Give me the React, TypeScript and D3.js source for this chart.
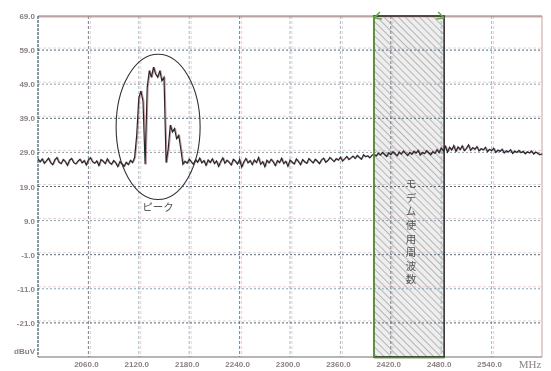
import React, { useEffect, useRef } from "react";
import * as d3 from "d3";

// spectrum trace, 2.5 MHz per point starting at 2000 MHz (dBuV)
const startMHz = 2000;
const stepMHz = 2.5;
const floorLeft = [
  27.0, 26.2, 27.1, 25.8, 26.5, 27.3, 26.0, 25.4, 26.8, 27.5, 26.1, 25.7,
  26.9, 26.3, 25.2, 26.7, 27.2, 26.0, 25.6, 26.4, 27.0, 25.9, 26.6, 25.3,
  26.8, 27.4, 26.2, 25.8, 26.5, 25.1, 26.9, 26.4, 25.7, 27.1, 26.0, 25.5,
  26.6, 25.9, 24.8, 26.3, 25.6, 24.9, 26.1, 25.4, 26.7, 26.0,
];
const peakBand = [
  27.5, 34, 45, 47, 44, 25.5, 48, 53, 51, 54, 52, 51, 53, 50, 51, 26, 30, 37,
  35, 36, 33, 34, 30, 25.5,
];
const floorMid = [
  26.4, 25.8, 27.0, 26.2, 25.5, 26.9, 26.1, 27.3, 25.9, 26.6, 25.2, 26.8,
  26.0, 27.1, 25.7, 26.5, 24.9, 26.3, 27.4, 25.8, 26.7, 26.1, 25.3, 27.0,
  26.4, 25.6, 26.9, 24.7, 26.2, 27.2, 25.9, 26.6, 25.4, 26.8, 26.0, 27.5,
  25.5, 26.3, 24.8, 26.7, 25.9, 27.0, 26.2, 25.1, 26.6, 26.0, 27.3, 25.7,
  26.4, 24.9, 26.8, 26.1, 25.6, 27.1, 26.3, 25.4, 26.9, 26.2, 25.8, 27.2,
  26.5, 25.9, 27.0, 26.4, 25.7, 26.8, 27.3, 26.1, 26.6, 27.5, 26.9, 26.3,
  27.2, 26.7, 27.6, 26.5, 27.1, 27.8, 26.9, 27.4, 27.9, 27.2, 28.1, 27.5,
  27.0, 28.3, 27.7, 28.0, 27.4, 28.2,
];
const floorRight = [
  28.5, 27.9, 28.8, 28.2, 29.0, 28.4, 27.8, 28.9, 28.3, 29.2, 28.6, 28.0,
  29.1, 28.5, 29.4, 28.7, 28.1, 29.0, 28.4, 29.3, 28.8, 29.6, 28.2, 29.0,
  28.6, 29.5, 28.9, 28.3, 29.2, 28.7, 29.8, 28.9, 30.3, 29.4, 30.8, 29.1,
  30.5, 29.7, 31.0, 29.3, 30.6, 29.8, 30.9, 29.5, 30.2, 31.2, 29.6, 30.4,
  29.9, 30.7, 29.4, 30.1, 29.7, 30.5, 29.2, 29.9, 29.5, 30.2, 29.0, 29.7,
  29.3, 29.9, 28.8, 29.5, 29.1, 29.8, 28.7, 29.4, 29.0, 29.6, 28.9, 29.3,
  28.6, 29.2, 28.8, 29.4, 28.5, 29.1, 28.7, 28.3, 28.6,
];
const traceValues = [...floorLeft, ...peakBand, ...floorMid, ...floorRight];

const xGrid = [2000, 2060, 2120, 2180, 2240, 2300, 2360, 2420, 2480, 2540, 2600];
const xTickLabels = [
  "2060.0", "2120.0", "2180.0", "2240.0", "2300.0",
  "2360.0", "2420.0", "2480.0", "2540.0",
];
const yGrid = [69, 59, 49, 39, 29, 19, 9, -1, -11, -21, -31];
const yTickLabels = [
  "69.0", "59.0", "49.0", "39.0", "29.0", "19.0",
  "9.0", "-1.0", "-11.0", "-21.0", "dBuV",
];

// modem band (2.4 GHz ISM)
const bandStart = 2400;
const bandEnd = 2483.5;
const bandLabel = "モデム使用周波数";
// peak annotation ellipse: centre (MHz, dB), radii (MHz, dB)
const peakEllipse = { f: 2143, v: 36.5, rf: 50, rv: 21.3 };
const peakLabel = "ピーク";

const App: React.FC = () => {
  const svgRef = useRef<SVGSVGElement | null>(null);

  useEffect(() => {
    const width = 551,
      height = 371;
    const x = d3.scaleLinear().domain([2000, 2600]).range([38, 542]);
    const y = d3.scaleLinear().domain([-31, 69]).range([357, 16]);

    const svg = d3.select(svgRef.current);
    svg.selectAll("*").remove();
    svg.attr("width", width).attr("height", height);

    const defs = svg.append("defs");
    defs
      .append("filter")
      .attr("id", "scan")
      .append("feGaussianBlur")
      .attr("stdDeviation", 0.45);
    const pat = defs
      .append("pattern")
      .attr("id", "hatch")
      .attr("patternUnits", "userSpaceOnUse")
      .attr("width", 5)
      .attr("height", 5)
      .attr("patternTransform", "rotate(45)");
    pat.append("rect").attr("width", 5).attr("height", 5).attr("fill", "#eeeeee");
    pat
      .append("line")
      .attr("x1", 0)
      .attr("x2", 5)
      .attr("y1", 0)
      .attr("y2", 0)
      .attr("stroke", "#a8a8a8")
      .attr("stroke-width", 1.6);

    const g = svg.append("g").attr("filter", "url(#scan)");
    g.append("rect").attr("width", width).attr("height", height).attr("fill", "#fff");

    const x0 = x(2000),
      x1 = x(2600),
      y0 = y(-31),
      y1 = y(69);

    // band box background
    g.append("rect")
      .attr("x", x(bandStart))
      .attr("y", y1)
      .attr("width", x(bandEnd) - x(bandStart))
      .attr("height", y0 - y1)
      .attr("fill", "url(#hatch)");

    // vertical grid
    xGrid.slice(1, -1).forEach((f, i) => {
      g.append("line")
        .attr("x1", x(f) + 2)
        .attr("x2", x(f) + 2)
        .attr("y1", y1)
        .attr("y2", y0)
        .attr("stroke", "#e4a0a0")
        .attr("stroke-opacity", 0.5)
        .attr("stroke-dasharray", "3,2");
      g.append("line")
        .attr("x1", x(f))
        .attr("x2", x(f))
        .attr("y1", y1)
        .attr("y2", y0)
        .attr("stroke", i % 3 === 0 ? "#55798c" : "#8fb5c8")
        .attr("stroke-width", 0.9)
        .attr("stroke-dasharray", "3,2");
    });

    // horizontal grid
    yGrid.slice(1, -1).forEach((v, i) => {
      g.append("line")
        .attr("x1", x0)
        .attr("x2", x1)
        .attr("y1", y(v) - 2)
        .attr("y2", y(v) - 2)
        .attr("stroke", "#e4a0a0")
        .attr("stroke-opacity", 0.5)
        .attr("stroke-dasharray", "3,2");
      g.append("line")
        .attr("x1", x0)
        .attr("x2", x1)
        .attr("y1", y(v))
        .attr("y2", y(v))
        .attr("stroke", i % 2 === 0 ? "#3f6f88" : "#7ea6ba")
        .attr("stroke-width", 1)
        .attr("stroke-dasharray", "2,2");
    });

    // frame
    g.append("line")
      .attr("x1", x0).attr("x2", x1).attr("y1", y1 + 1).attr("y2", y1 + 1)
      .attr("stroke", "#e0a0a0").attr("stroke-width", 1);
    g.append("line")
      .attr("x1", x0).attr("x2", x1).attr("y1", y1).attr("y2", y1)
      .attr("stroke", "#7d7d7d").attr("stroke-width", 1);
    g.append("line")
      .attr("x1", x0).attr("x2", x1).attr("y1", y0).attr("y2", y0)
      .attr("stroke", "#6f6f6f").attr("stroke-width", 1.2);
    g.append("line")
      .attr("x1", x1).attr("x2", x1).attr("y1", y1).attr("y2", y0)
      .attr("stroke", "#c9a0a0").attr("stroke-width", 1);
    g.append("line")
      .attr("x1", x0).attr("x2", x0).attr("y1", y1).attr("y2", y0)
      .attr("stroke", "#2f5a70").attr("stroke-width", 1.2)
      .attr("stroke-dasharray", "3,1");

    // trace
    const pts: [number, number][] = traceValues.map((v, i) => [
      startMHz + i * stepMHz,
      v,
    ]);
    const line = d3
      .line<[number, number]>()
      .x((d) => x(d[0]))
      .y((d) => y(d[1]));
    g.append("path")
      .datum(pts)
      .attr("d", line)
      .attr("fill", "none")
      .attr("stroke", "#c85050")
      .attr("stroke-opacity", 0.6)
      .attr("stroke-width", 1)
      .attr("transform", "translate(1,0)");
    g.append("path")
      .datum(pts)
      .attr("d", line)
      .attr("fill", "none")
      .attr("stroke", "#1e2a30")
      .attr("stroke-width", 1.2);

    // band box border
    g.append("rect")
      .attr("x", x(bandStart))
      .attr("y", y1)
      .attr("width", x(bandEnd) - x(bandStart))
      .attr("height", y0 - y1)
      .attr("fill", "none")
      .attr("stroke", "#2a2a2a")
      .attr("stroke-width", 1.5);
    g.append("line")
      .attr("x1", x(bandStart)).attr("x2", x(bandStart))
      .attr("y1", y1).attr("y2", y0)
      .attr("stroke", "#5f9e35").attr("stroke-width", 1.6);
    [bandStart, bandEnd].forEach((f, i) => {
      const cx = x(f);
      const dir = i === 0 ? 1 : -1;
      g.append("path")
        .attr("d", `M${cx},${y1 + 2} L${cx + dir * 6},${y1 - 4} M${cx},${y1 + 2} L${cx + dir * 8},${y1 + 3}`)
        .attr("stroke", "#5fb040")
        .attr("stroke-width", 1.6)
        .attr("fill", "none");
    });
    g.append("line")
      .attr("x1", x(bandStart)).attr("x2", x(bandEnd))
      .attr("y1", y0 + 1).attr("y2", y0 + 1)
      .attr("stroke", "#6fae45").attr("stroke-width", 1);

    // vertical label in the band
    const bx = (x(bandStart) + x(bandEnd)) / 2 + 2;
    Array.from(bandLabel).forEach((ch, i) => {
      g.append("text")
        .attr("x", bx)
        .attr("y", y(18.5) + i * 13.6)
        .attr("text-anchor", "middle")
        .attr("font-family", "Noto Sans CJK JP")
        .attr("font-size", 10.5)
        .attr("fill", "#555")
        .text(ch);
    });

    // peak ellipse and label
    const ecx = x(peakEllipse.f),
      ecy = y(peakEllipse.v);
    g.append("ellipse")
      .attr("cx", ecx)
      .attr("cy", ecy)
      .attr("rx", x(peakEllipse.f + peakEllipse.rf) - ecx)
      .attr("ry", ecy - y(peakEllipse.v + peakEllipse.rv))
      .attr("fill", "none")
      .attr("stroke", "#333")
      .attr("stroke-width", 1.1);
    g.append("text")
      .attr("x", ecx)
      .attr("y", y(peakEllipse.v - peakEllipse.rv) + 12)
      .attr("text-anchor", "middle")
      .attr("font-family", "Noto Sans CJK JP")
      .attr("font-size", 10.5)
      .attr("fill", "#555")
      .text(peakLabel);

    // y labels
    yGrid.forEach((v, i) => {
      g.append("text")
        .attr("x", x0 - 3)
        .attr("y", y(v) + (i === yGrid.length - 1 ? -3 : 3))
        .attr("text-anchor", "end")
        .attr("font-family", "Liberation Sans Narrow, Liberation Sans")
        .attr("font-size", 8)
        .attr("font-weight", "bold")
        .attr("fill", "#8a7f80")
        .text(yTickLabels[i]);
    });

    // x labels
    xGrid.slice(1, -1).forEach((f, i) => {
      g.append("text")
        .attr("x", x(f) - 2)
        .attr("y", y0 + 10)
        .attr("text-anchor", "middle")
        .attr("font-family", "Liberation Sans Narrow, Liberation Sans")
        .attr("font-size", 8)
        .attr("font-weight", "bold")
        .attr("fill", "#8a7f80")
        .text(xTickLabels[i]);
    });
    g.append("text")
      .attr("x", x1 - 12)
      .attr("y", y0 + 11)
      .attr("text-anchor", "middle")
      .attr("font-family", "Liberation Serif")
      .attr("font-size", 11)
      .attr("fill", "#8a8585")
      .text("MHz");
  }, []);

  return (
    <svg
      ref={svgRef}
      style={{ position: "absolute", left: 0, top: 0, display: "block" }}
    ></svg>
  );
};

export default App;
